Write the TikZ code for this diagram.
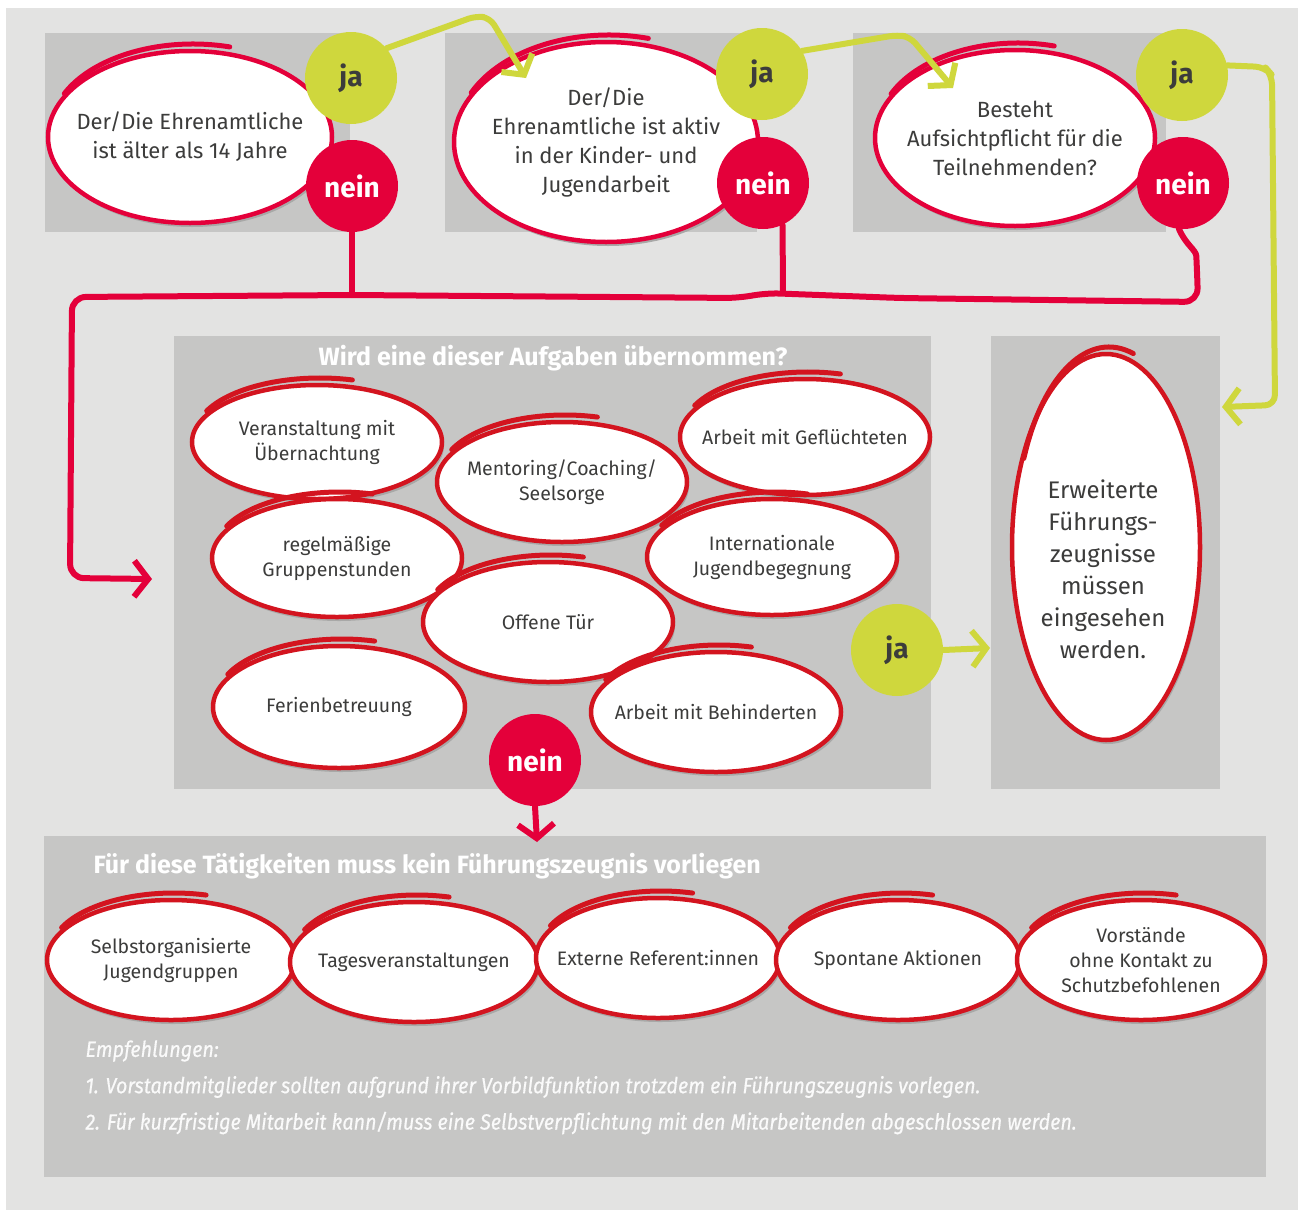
\documentclass[tikz,border=0pt]{standalone}
\usepackage{fontspec}
\setmainfont{Fira Sans}
\newfontfamily\condit[FakeStretch=0.9,FakeBold=0.5]{Fira Sans}
\usetikzlibrary{arrows.meta,shapes.geometric,calc}
\definecolor{bgc}{HTML}{E3E3E2}
\definecolor{boxc}{HTML}{C6C6C5}
\definecolor{redA}{HTML}{E4003A}
\definecolor{redB}{HTML}{D3141F}
\definecolor{yel}{HTML}{CFD73D}
\definecolor{txt}{HTML}{3C3C3B}
\definecolor{shad}{HTML}{A8A8A7}
\tikzset{
  bubble/.style={ellipse, fill=white, line width=4.5pt, inner xsep=-25pt, inner ysep=0pt, align=center, text=txt},
  jacirc/.style={circle, fill=yel, minimum size=92pt, inner sep=0pt, text=txt, font=\fontsize{28}{30}\selectfont\bfseries},
  neincirc/.style={circle, fill=redA, minimum size=92pt, inner sep=0pt, text=white, font=\fontsize{28}{30}\selectfont\bfseries},
  redline/.style={draw=redA, line width=6pt, line cap=round, line join=round},
  yelline/.style={draw=yel, line width=6pt, line cap=round, line join=round},
  barb/.style={-{Straight Barb[length=14pt,width=36pt]}},
  titletext/.style={font=\fontsize{25}{27}\selectfont\bfseries, text=white},
  recotext/.style={anchor=west, text=white!96!gray, font=\condit\itshape\fontsize{22}{24}\selectfont},
}
\newcommand\bub[7]{%
  \fill[shad] (#2+2,#3+4) ellipse [x radius=#4, y radius=#5];
  \node[bubble, draw=#6, minimum width=2*#4, minimum height=2*#5] (#1) at (#2,#3) {#7};
  \draw[#6, line width=5pt, line cap=round] (#2+3,#3-7) ++(205:#4 and #5) arc[start angle=205, end angle=285, x radius=#4, y radius=#5];
}
\begin{document}
\begin{tikzpicture}[x=1pt,y=-1pt]
\useasboundingbox (0,0) rectangle (1298,1210);
\fill[white] (0,0) rectangle (1298,1210);
\fill[bgc] (6,8) rectangle (1298,1210);
% boxes
\fill[boxc] (45,33) rectangle (350,232);
\fill[boxc] (445,33) rectangle (757,232);
\fill[boxc] (853,33) rectangle (1166,232);
\fill[boxc] (174,336) rectangle (931,789);
\fill[boxc] (991,336) rectangle (1220,789);
\fill[boxc] (44,836) rectangle (1266,1177);

% top questions
\begin{scope}[bubble/.append style={font=\fontsize{22}{29}\selectfont}]
\bub{q1}{190}{137}{142}{86}{redA}{Der/Die Ehrenamtliche\\ist älter als 14 Jahre}
\bub{q2}{606}{142}{152}{100}{redA}{Der/Die\\Ehrenamtliche ist aktiv\\in der Kinder- und\\Jugendarbeit}
\bub{q3}{1015}{138}{140}{88}{redA}{Besteht\\Aufsichtpflicht für die\\Teilnehmenden?}
\end{scope}

\node[jacirc] (ja1) at (351,78) {ja};
\node[neincirc] (nein1) at (352,186) {nein};
\node[jacirc] (ja2) at (762,74) {ja};
\node[neincirc] (nein2) at (763,183) {nein};
\node[jacirc] (ja3) at (1182,75) {ja};
\node[neincirc] (nein3) at (1183,183) {nein};

% middle box
\node[titletext] (t2) at (553,358) {Wird eine dieser Aufgaben übernommen?};
\begin{scope}[bubble/.append style={font=\fontsize{19.5}{25}\selectfont}]
\bub{a1}{317}{442}{125}{57}{redB}{Veranstaltung mit\\Übernachtung}
\bub{a3}{805}{437}{125}{58}{redB}{Arbeit mit Geflüchteten}
\bub{a2}{562}{482}{125}{60}{redB}{Mentoring/Coaching/\\Seelsorge}
\bub{a4}{337}{558}{125}{59}{redB}{regelmäßige\\Gruppenstunden}
\bub{a5}{772}{557}{125}{58}{redB}{Internationale\\Jugendbegegnung}
\bub{a6}{548}{622}{125}{60}{redB}{Offene Tür}
\bub{a7}{339}{707}{126}{61}{redB}{Ferienbetreuung}
\bub{a8}{716}{712}{125}{60}{redB}{Arbeit mit Behinderten}
\end{scope}
\node[jacirc] (ja4) at (897,650) {ja};
\node[neincirc] (nein4) at (535,760) {nein};

% result
\bub{res}{1106}{547}{94}{193}{redB}{}
\node[font=\fontsize{24}{32}\selectfont, text=txt, align=center] (restxt) at (1103,569) {Erweiterte\\Führungs-\\zeugnisse\\müssen\\eingesehen\\werden.};

% bottom box
\node[titletext, anchor=west] (t3) at (90,866) {Für diese Tätigkeiten muss kein Führungszeugnis vorliegen};
\begin{scope}[bubble/.append style={font=\fontsize{19.5}{25}\selectfont}]
\bub{b1}{171}{960}{124}{60}{redB}{Selbstorganisierte\\Jugendgruppen}
\bub{b2}{414}{962}{124}{60}{redB}{Tagesveranstaltungen}
\bub{b3}{658}{958}{122}{60}{redB}{Externe Referent:innen}
\bub{b4}{898}{960}{122}{60}{redB}{Spontane Aktionen}
\bub{b5}{1141}{960}{124}{60}{redB}{Vorstände\\ohne Kontakt zu\\Schutzbefohlenen}
\end{scope}
\node[recotext] (r0) at (82,1051) {Empfehlungen:};
\node[recotext] (r1) at (82,1087) {1. Vorstandmitglieder sollten aufgrund ihrer Vorbildfunktion trotzdem ein Führungszeugnis vorlegen.};
\node[recotext] (r2) at (82,1123) {2. Für kurzfristige Mitarbeit kann/muss eine Selbstverpflichtung mit den Mitarbeitenden abgeschlossen werden.};

% connectors
\coordinate (redend) at (152,579);
\draw[redline] (nein1.south) -- (352,295);
\draw[redline] (nein2.-65) -- (783,292);
\draw[redline, barb, rounded corners=14pt] (nein3.-95) .. controls (1186,245) and (1196,250) .. (1197,270) -- (1198,302) -- (900,298) -- (765,293) -- (740,298) -- (352,295) -- (72,297) -- (70,578) -- (redend);

\draw[yelline, barb, rounded corners=8pt] (ja1.40) -- (476,16) -- (490,18) -- ($(q2.center)+(-80,-64)$);
\draw[yelline, barb, rounded corners=8pt] (ja2.30) -- (897,35) -- (910,37) -- ($(q3.center)+(-62,-50)$);
\coordinate (yelend) at (1222,407);
\draw[yelline, barb, rounded corners=10pt] (ja3.12) -- (1265,67) -- (1272,75) -- (1275,405) -- (yelend);
\draw[yelline, barb] (ja4.east) -- (990,648);
\coordinate (neinend) at (537,842);
\draw[redline, barb] (nein4.south) -- (neinend);
\end{tikzpicture}
\end{document}
